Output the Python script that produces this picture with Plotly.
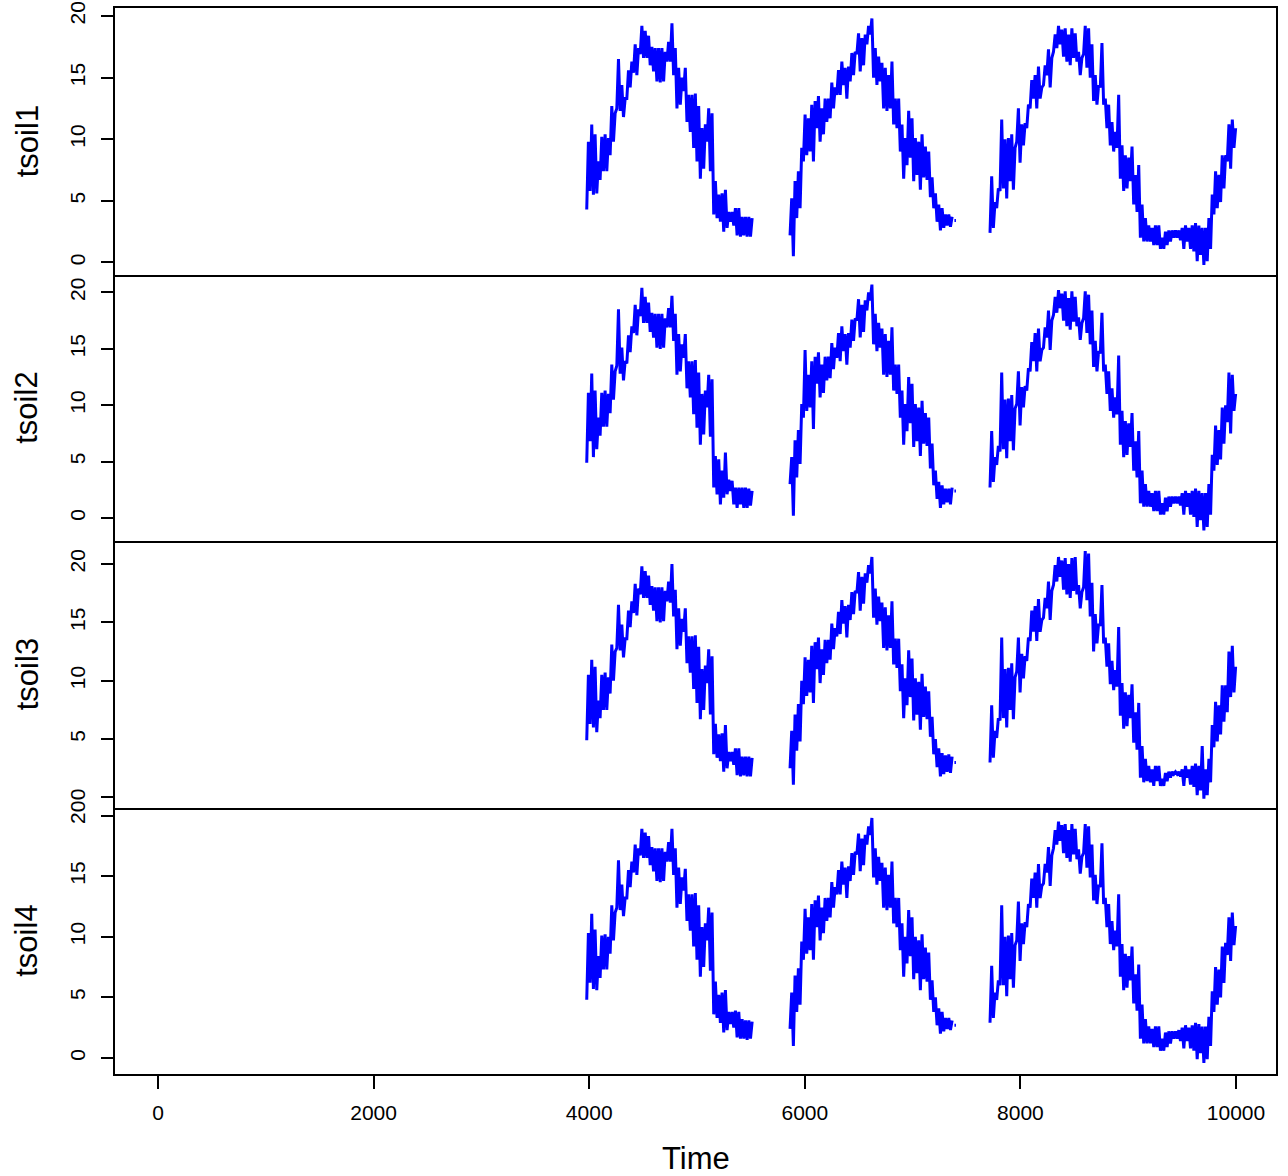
import numpy as np
import plotly.graph_objects as go
from plotly.subplots import make_subplots

# ---------------- data ----------------
SERIES = ["tsoil1", "tsoil2", "tsoil3", "tsoil4"]
SEG_START = [3977, 5863, 7718]     # first time index of each observed stretch
TIME_STEP = 31                     # spacing of the read-off samples
DOT_TIME = [7388, 7402]            # short isolated stretch after the 2nd block
X_TICKS = [0, 2000, 4000, 6000, 8000, 10000]
Y_TICKS = [0, 5, 10, 15, 20]

# lower / upper envelope of each stretch, per series
TSOIL1_SEG1_LO = [4.3, 5.8, 5.5, 5.6, 6.7, 7.4, 7.4, 8.7, 9.8, 12.5, 12.3, 11.8, 13.3, 14.2, 15.4, 15.2, 16.9, 16.6, 16.6, 16.0, 15.5, 14.7, 14.6, 14.7, 16.3, 16.3, 15.2, 12.5, 12.8, 13.9, 11.4, 10.6, 9.3, 8.2, 6.8, 7.6, 9.8, 7.4, 3.9, 3.6, 3.3, 2.5, 2.8, 3.3, 3.0, 2.2, 2.1, 2.2, 2.1, 2.1]
TSOIL1_SEG1_HI = [9.8, 11.2, 10.4, 8.2, 10.2, 10.4, 10.1, 12.7, 12.1, 16.5, 14.4, 13.3, 15.6, 16.3, 17.7, 17.4, 19.2, 18.8, 18.4, 17.5, 17.4, 17.4, 17.4, 17.1, 17.9, 19.4, 17.4, 15.8, 15.0, 15.8, 13.6, 13.6, 13.7, 12.7, 10.9, 11.2, 12.5, 12.1, 6.6, 5.5, 5.6, 5.9, 4.1, 4.1, 4.4, 4.4, 3.7, 3.7, 3.7, 3.6]
TSOIL1_SEG2_LO = [2.2, 0.5, 3.6, 4.4, 8.2, 8.7, 9.0, 8.2, 10.9, 9.8, 10.4, 11.4, 11.7, 12.5, 13.6, 13.6, 14.4, 13.3, 14.7, 15.2, 16.9, 15.5, 16.0, 17.7, 18.5, 15.0, 14.4, 14.7, 12.5, 12.3, 12.5, 11.2, 10.9, 9.0, 6.8, 7.9, 8.5, 6.6, 7.1, 5.9, 6.9, 6.7, 5.3, 4.4, 3.3, 2.6, 2.8, 3.0, 2.9]
TSOIL1_SEG2_HI = [5.2, 6.6, 7.4, 9.3, 12.0, 11.7, 12.8, 13.1, 13.5, 12.5, 13.3, 13.3, 14.6, 14.2, 15.6, 16.3, 15.8, 15.9, 17.0, 17.1, 18.6, 18.2, 18.5, 19.2, 19.8, 17.4, 16.7, 16.2, 15.8, 15.2, 16.3, 13.3, 13.3, 11.2, 10.1, 12.3, 11.7, 10.1, 9.8, 10.4, 9.4, 9.0, 6.9, 5.6, 4.7, 4.4, 3.9, 3.9, 3.7]
TSOIL1_SEG3_LO = [2.4, 2.8, 4.4, 5.8, 6.0, 5.2, 6.6, 5.9, 9.8, 8.1, 9.5, 10.9, 12.5, 13.3, 12.5, 13.3, 14.4, 15.2, 14.2, 17.1, 17.4, 17.7, 16.7, 16.3, 16.0, 16.6, 16.3, 15.2, 16.9, 15.8, 15.0, 13.1, 12.8, 14.2, 12.8, 10.9, 9.5, 9.0, 9.3, 6.8, 5.8, 6.0, 6.6, 4.7, 4.1, 2.0, 1.7, 1.7, 1.7, 1.4, 1.4, 1.1, 1.1, 1.4, 1.7, 2.0, 2.0, 1.8, 1.1, 1.7, 1.1, 0.9, 0.1, 0.6, -0.2, 0.1, 1.1, 3.9, 4.4, 4.9, 6.0, 8.2, 7.6, 9.3]
TSOIL1_SEG3_HI = [7.0, 4.9, 6.0, 11.6, 10.0, 10.1, 10.4, 9.3, 12.5, 11.2, 11.3, 12.8, 14.8, 15.2, 15.9, 14.2, 16.0, 17.3, 16.6, 18.5, 19.2, 18.9, 19.0, 18.5, 19.0, 18.6, 17.1, 16.6, 19.2, 19.0, 17.7, 15.2, 14.4, 17.8, 13.3, 12.8, 11.4, 10.6, 13.6, 9.5, 8.7, 8.5, 9.4, 7.1, 7.9, 4.7, 3.6, 3.0, 2.8, 3.0, 3.0, 2.0, 2.5, 2.6, 2.6, 2.6, 2.6, 2.8, 3.0, 2.8, 3.0, 3.2, 3.0, 2.8, 2.8, 3.6, 5.5, 7.4, 7.1, 8.7, 8.7, 11.2, 11.6, 10.9]
TSOIL1_DOT = 3.4

TSOIL2_SEG1_LO = [4.9, 6.8, 5.4, 6.1, 7.3, 8.1, 8.1, 9.3, 10.5, 13.5, 12.8, 12.2, 13.7, 14.7, 16.4, 16.2, 17.9, 17.3, 17.3, 16.5, 16.0, 15.1, 15.0, 15.1, 16.9, 16.9, 15.7, 12.7, 13.0, 14.2, 11.5, 10.7, 9.2, 8.0, 6.5, 7.4, 9.8, 7.2, 2.7, 2.1, 1.2, 1.8, 2.1, 2.4, 1.2, 0.9, 1.2, 0.9, 0.9, 1.1]
TSOIL2_SEG1_HI = [11.1, 12.8, 11.3, 8.9, 11.1, 11.3, 11.0, 13.6, 13.0, 18.5, 15.1, 13.9, 16.2, 17.0, 18.9, 18.5, 20.4, 19.6, 19.1, 18.2, 18.1, 18.1, 18.1, 17.7, 18.6, 19.7, 18.1, 16.3, 15.4, 16.3, 13.9, 13.9, 14.0, 12.9, 11.0, 11.3, 12.7, 12.3, 5.5, 5.2, 4.2, 5.8, 3.4, 3.3, 2.7, 2.7, 2.7, 2.7, 2.6, 2.4]
TSOIL2_SEG2_LO = [3.0, 0.2, 3.6, 4.8, 8.9, 9.5, 9.8, 7.9, 11.9, 10.7, 11.1, 12.2, 12.4, 13.2, 14.2, 13.9, 14.8, 13.6, 15.1, 15.7, 17.5, 16.0, 16.5, 18.4, 19.3, 15.4, 14.8, 15.1, 12.7, 12.5, 12.7, 11.3, 11.0, 8.9, 6.5, 7.7, 8.4, 6.3, 6.8, 5.5, 6.6, 6.4, 4.4, 2.9, 1.7, 0.9, 1.2, 1.4, 1.2]
TSOIL2_SEG2_HI = [5.4, 6.9, 7.8, 10.1, 14.9, 12.7, 13.9, 14.3, 14.7, 13.6, 14.3, 14.3, 15.5, 15.1, 16.4, 17.0, 16.3, 16.4, 17.6, 17.7, 19.4, 18.9, 19.3, 20.0, 20.7, 18.1, 17.3, 16.8, 16.3, 15.7, 16.9, 13.6, 13.6, 11.3, 10.1, 12.5, 11.9, 10.1, 9.8, 10.4, 9.3, 8.9, 6.6, 4.2, 3.2, 2.9, 2.6, 2.6, 2.7]
TSOIL2_SEG3_LO = [2.7, 3.2, 4.7, 5.9, 6.1, 5.3, 6.8, 6.0, 10.1, 8.2, 9.8, 11.3, 13.0, 13.9, 13.0, 13.9, 15.1, 16.0, 14.9, 18.0, 18.2, 18.6, 17.5, 17.0, 16.7, 17.4, 17.0, 15.8, 17.7, 16.4, 15.4, 13.4, 13.0, 14.6, 13.0, 11.0, 9.5, 8.9, 9.2, 6.5, 5.4, 5.6, 6.3, 4.2, 3.6, 1.3, 1.0, 1.0, 1.0, 0.6, 0.6, 0.3, 0.3, 0.6, 1.0, 1.3, 1.3, 1.1, 0.3, 1.0, 0.3, 0.1, -0.8, -0.2, -1.1, -0.8, 0.3, 4.2, 4.7, 5.2, 6.6, 8.5, 7.5, 9.5]
TSOIL2_SEG3_HI = [7.7, 5.4, 6.4, 12.9, 10.5, 10.6, 10.9, 9.7, 13.0, 11.6, 11.7, 13.3, 15.6, 16.4, 16.8, 14.9, 16.9, 18.4, 17.5, 19.6, 20.2, 19.9, 20.1, 19.5, 20.1, 19.6, 17.8, 17.3, 20.1, 19.8, 18.4, 15.7, 14.8, 18.2, 13.6, 13.0, 11.5, 10.7, 14.4, 9.5, 8.6, 8.4, 9.3, 6.8, 7.7, 4.2, 3.0, 2.4, 2.2, 2.4, 2.4, 1.3, 1.8, 1.9, 1.9, 1.9, 1.9, 2.2, 2.4, 2.2, 2.4, 2.6, 2.4, 2.2, 2.2, 3.0, 5.6, 8.2, 7.8, 9.8, 10.0, 12.9, 12.7, 11.0]
TSOIL2_DOT = 2.4

TSOIL3_SEG1_LO = [4.9, 6.3, 6.0, 5.6, 6.8, 7.5, 7.5, 8.9, 10.0, 12.8, 12.6, 12.0, 13.6, 14.6, 15.8, 15.6, 17.4, 17.1, 17.1, 16.5, 16.0, 15.1, 15.0, 15.1, 16.8, 16.7, 15.5, 12.7, 13.0, 14.2, 11.5, 10.7, 9.3, 8.1, 6.7, 7.5, 9.8, 7.1, 3.7, 3.4, 3.1, 2.2, 2.5, 3.1, 2.8, 1.9, 1.8, 1.9, 1.8, 1.8]
TSOIL3_SEG1_HI = [10.5, 11.8, 11.2, 8.3, 10.5, 10.7, 10.3, 13.1, 12.5, 16.5, 14.8, 13.6, 16.0, 16.8, 18.3, 17.9, 19.8, 19.4, 19.0, 18.1, 18.0, 18.0, 18.0, 17.7, 18.5, 20.0, 17.8, 16.2, 15.3, 16.2, 13.8, 13.8, 13.9, 12.9, 11.0, 11.3, 12.7, 12.1, 6.3, 5.4, 5.5, 6.2, 3.9, 3.9, 4.2, 4.2, 3.5, 3.5, 3.5, 3.4]
TSOIL3_SEG2_LO = [2.5, 1.1, 4.0, 4.8, 8.0, 8.7, 9.0, 8.1, 11.0, 9.8, 10.5, 11.5, 11.8, 12.7, 13.8, 14.0, 14.9, 13.7, 15.2, 15.7, 17.5, 16.0, 16.6, 18.4, 19.2, 15.4, 14.8, 15.1, 12.8, 12.6, 12.8, 11.4, 11.1, 9.1, 6.8, 7.9, 8.6, 6.6, 7.1, 5.8, 6.9, 6.7, 5.2, 3.7, 2.6, 1.8, 2.0, 2.2, 2.1]
TSOIL3_SEG2_HI = [5.7, 7.1, 8.0, 10.0, 12.0, 11.8, 13.0, 13.3, 13.7, 12.7, 13.5, 13.5, 14.9, 14.5, 15.9, 16.9, 16.4, 16.5, 17.6, 17.7, 19.3, 18.9, 19.2, 19.9, 20.6, 17.9, 17.2, 16.7, 16.3, 15.6, 16.8, 13.6, 13.6, 11.4, 10.2, 12.6, 11.9, 10.2, 9.9, 10.6, 9.5, 9.1, 6.9, 5.0, 4.2, 3.8, 3.6, 3.7, 3.5]
TSOIL3_SEG3_LO = [3.0, 3.4, 5.1, 6.6, 6.8, 6.0, 7.5, 6.7, 10.8, 9.0, 10.2, 11.7, 13.4, 14.2, 13.4, 14.2, 15.4, 16.2, 15.2, 18.2, 18.5, 18.9, 17.8, 17.4, 17.1, 17.7, 17.4, 16.2, 18.0, 16.9, 15.5, 12.5, 13.2, 14.7, 13.2, 11.2, 9.7, 9.2, 9.5, 7.0, 5.9, 6.1, 6.8, 4.7, 4.1, 1.7, 1.3, 1.4, 1.3, 1.0, 1.4, 1.0, 1.0, 1.4, 1.7, 2.0, 2.0, 1.8, 1.0, 1.7, 1.1, 0.9, 0.2, 0.6, -0.1, 0.2, 1.3, 4.3, 4.8, 5.4, 6.5, 7.3, 8.6, 9.0]
TSOIL3_SEG3_HI = [7.9, 5.7, 6.8, 13.7, 11.0, 11.1, 11.5, 10.3, 13.7, 12.3, 12.1, 13.7, 16.0, 16.4, 17.0, 15.2, 17.1, 18.5, 17.7, 19.9, 20.6, 20.3, 20.5, 20.0, 20.5, 20.6, 18.2, 17.6, 21.1, 20.9, 18.4, 15.7, 14.9, 18.2, 13.7, 13.2, 11.7, 10.9, 14.6, 9.8, 9.0, 8.8, 9.7, 7.3, 8.1, 4.4, 3.3, 2.7, 2.4, 2.7, 2.7, 1.6, 2.1, 2.2, 2.2, 2.2, 2.2, 2.4, 2.7, 2.4, 2.7, 2.9, 2.7, 4.4, 2.4, 3.3, 6.2, 8.2, 7.9, 9.6, 9.6, 12.5, 13.0, 11.2]
TSOIL3_DOT = 3.0

TSOIL4_SEG1_LO = [4.8, 6.2, 5.7, 5.6, 6.6, 7.3, 7.3, 8.6, 9.7, 12.4, 12.2, 11.7, 13.2, 14.1, 15.3, 15.1, 16.7, 16.5, 16.5, 15.9, 15.4, 14.6, 14.5, 14.6, 16.2, 16.2, 15.1, 12.4, 12.7, 13.8, 11.3, 10.5, 9.2, 8.1, 6.7, 7.5, 9.7, 7.2, 3.6, 3.3, 2.9, 2.1, 2.3, 2.8, 2.5, 1.7, 1.6, 1.6, 1.5, 1.6]
TSOIL4_SEG1_HI = [10.3, 11.9, 10.6, 8.4, 10.1, 10.2, 10.0, 12.6, 12.0, 16.3, 14.3, 13.2, 15.5, 16.2, 17.6, 17.3, 18.9, 18.6, 18.3, 17.4, 17.3, 17.3, 17.3, 17.0, 17.8, 18.9, 17.3, 15.7, 14.9, 15.6, 13.5, 13.5, 13.6, 12.6, 10.8, 11.1, 12.4, 12.0, 6.3, 5.2, 5.4, 5.6, 3.8, 3.8, 3.9, 3.8, 3.2, 3.1, 3.1, 3.0]
TSOIL4_SEG2_LO = [2.4, 1.0, 3.8, 4.4, 8.1, 8.6, 8.9, 8.1, 10.8, 9.7, 10.3, 11.3, 11.6, 12.4, 13.5, 13.5, 14.3, 13.2, 14.6, 15.1, 16.8, 15.4, 15.9, 17.6, 18.4, 14.9, 14.3, 14.6, 12.4, 12.2, 12.4, 11.1, 10.8, 8.9, 6.7, 7.8, 8.4, 6.5, 7.0, 5.6, 6.5, 6.3, 4.8, 3.8, 2.7, 2.0, 2.2, 2.4, 2.3]
TSOIL4_SEG2_HI = [5.4, 6.8, 7.4, 9.6, 12.3, 11.6, 12.7, 13.0, 13.4, 12.4, 13.2, 13.2, 14.5, 14.1, 15.5, 16.2, 15.7, 15.8, 16.9, 17.0, 18.5, 18.1, 18.4, 19.1, 19.8, 17.3, 16.6, 16.1, 15.7, 15.1, 16.2, 13.2, 13.2, 11.1, 10.0, 12.2, 11.6, 10.0, 9.7, 10.2, 9.1, 8.7, 6.4, 5.0, 4.1, 3.8, 3.3, 3.3, 3.1]
TSOIL4_SEG3_LO = [2.9, 3.3, 4.8, 6.0, 6.0, 5.1, 6.5, 5.8, 9.7, 8.0, 9.4, 10.8, 12.4, 13.2, 12.4, 13.2, 14.4, 15.3, 14.2, 17.3, 17.6, 17.9, 16.9, 16.5, 16.2, 16.8, 16.4, 15.2, 16.9, 15.7, 14.9, 13.0, 12.7, 14.1, 12.7, 10.8, 9.4, 8.9, 9.2, 6.7, 5.6, 5.8, 6.4, 4.5, 3.9, 1.6, 1.2, 1.2, 1.2, 0.9, 0.9, 0.6, 0.6, 0.9, 1.2, 1.6, 1.6, 1.4, 0.8, 1.4, 0.8, 0.6, -0.1, 0.4, -0.4, -0.1, 1.0, 3.8, 4.4, 5.0, 6.2, 8.5, 8.0, 9.3]
TSOIL4_SEG3_HI = [7.6, 5.4, 6.4, 12.6, 10.0, 10.1, 10.3, 9.3, 12.9, 11.1, 11.2, 12.7, 14.8, 15.3, 16.0, 14.2, 16.0, 17.4, 16.7, 18.8, 19.5, 19.2, 19.3, 18.8, 19.3, 18.9, 17.2, 16.6, 19.3, 19.1, 17.6, 15.1, 14.3, 17.7, 13.2, 12.7, 11.3, 10.5, 13.5, 9.4, 8.6, 8.4, 9.2, 6.9, 7.7, 4.4, 3.2, 2.6, 2.4, 2.6, 2.6, 1.6, 2.1, 2.2, 2.2, 2.2, 2.3, 2.5, 2.7, 2.5, 2.7, 2.9, 2.8, 2.6, 2.6, 3.4, 5.5, 7.5, 7.3, 9.2, 9.5, 11.6, 12.0, 10.9]
TSOIL4_DOT = 2.7

DATA = {
    "tsoil1": ([TSOIL1_SEG1_LO, TSOIL1_SEG2_LO, TSOIL1_SEG3_LO],
               [TSOIL1_SEG1_HI, TSOIL1_SEG2_HI, TSOIL1_SEG3_HI], TSOIL1_DOT),
    "tsoil2": ([TSOIL2_SEG1_LO, TSOIL2_SEG2_LO, TSOIL2_SEG3_LO],
               [TSOIL2_SEG1_HI, TSOIL2_SEG2_HI, TSOIL2_SEG3_HI], TSOIL2_DOT),
    "tsoil3": ([TSOIL3_SEG1_LO, TSOIL3_SEG2_LO, TSOIL3_SEG3_LO],
               [TSOIL3_SEG1_HI, TSOIL3_SEG2_HI, TSOIL3_SEG3_HI], TSOIL3_DOT),
    "tsoil4": ([TSOIL4_SEG1_LO, TSOIL4_SEG2_LO, TSOIL4_SEG3_LO],
               [TSOIL4_SEG1_HI, TSOIL4_SEG2_HI, TSOIL4_SEG3_HI], TSOIL4_DOT),
}

# axis ranges as drawn in the reference
X_RANGE = [-399, 10371]
Y_RANGES = [[-0.98, 20.65], [-2.04, 21.59], [-0.86, 21.97], [-1.32, 20.66]]

FONT = "Liberation Sans, Arial, Helvetica, sans-serif"
BLUE = "#0000FF"


def build_series(los, his, dot):
    xs, ys = [], []
    for start, lo, hi in zip(SEG_START, los, his):
        n = min(len(lo), len(hi))
        t = start + TIME_STEP * np.arange(n)
        x = np.empty(2 * n)
        y = np.empty(2 * n)
        x[0::2] = t
        x[1::2] = t + TIME_STEP / 2.0
        y[0::2] = lo[:n]
        y[1::2] = hi[:n]
        xs += list(x) + [None]
        ys += list(y) + [None]
    xs += DOT_TIME
    ys += [dot] * len(DOT_TIME)
    return xs, ys


fig = make_subplots(rows=4, cols=1, shared_xaxes=True, vertical_spacing=0)

for i, name in enumerate(SERIES):
    los, his, dot = DATA[name]
    xs, ys = build_series(los, his, dot)
    fig.add_trace(
        go.Scatter(x=xs, y=ys, mode="lines", connectgaps=False,
                   line=dict(color=BLUE, width=3), showlegend=False,
                   hoverinfo="skip"),
        row=i + 1, col=1)

LINE_W = 2

for i in range(4):
    r = i + 1
    fig.update_yaxes(range=Y_RANGES[i], tickvals=Y_TICKS,
                     ticktext=[str(v) for v in Y_TICKS], automargin=False,
                     showline=True, linecolor="black", linewidth=LINE_W,
                     mirror=True, showgrid=False, zeroline=False,
                     ticks="outside", ticklen=12, tickwidth=2,
                     tickcolor="black", tickangle=-90, ticklabelstandoff=8,
                     ticklabeloverflow="allow",
                     tickfont=dict(family=FONT, size=21, color="black"),
                     row=r, col=1)
    fig.update_xaxes(range=X_RANGE, showline=True, linecolor="black",
                     linewidth=LINE_W, mirror=(r == 1), showgrid=False,
                     zeroline=False, automargin=False, row=r, col=1)
    if r < 4:
        fig.update_xaxes(showticklabels=False, ticks="", row=r, col=1)
    else:
        fig.update_xaxes(tickvals=X_TICKS, ticktext=[str(v) for v in X_TICKS],
                         ticks="outside", ticklen=13, tickwidth=2,
                         tickcolor="black", ticklabelstandoff=6,
                         ticklabeloverflow="allow",
                         tickfont=dict(family=FONT, size=21, color="black"),
                         row=r, col=1)

annotations = []
for i, name in enumerate(SERIES):
    yref = "y domain" if i == 0 else f"y{i + 1} domain"
    annotations.append(dict(text=name, xref="paper", yref=yref, x=0, y=0.5,
                            xanchor="center", yanchor="middle", xshift=-88,
                            textangle=-90, showarrow=False,
                            font=dict(family=FONT, size=31, color="black")))
annotations.append(dict(text="Time", xref="paper", yref="paper", x=0.5, y=0,
                        xanchor="center", yanchor="middle", yshift=-84,
                        showarrow=False,
                        font=dict(family=FONT, size=31, color="black")))

fig.update_layout(width=1288, height=1176,
                  margin=dict(l=115, r=12, t=8, b=102, pad=0),
                  paper_bgcolor="white", plot_bgcolor="white",
                  annotations=annotations, hovermode=False,
                  font=dict(family=FONT, color="black"))

# drop the browser's default 8px page margin so the figure fills the window
fig.write_html("out.html",
               config={"displayModeBar": False, "staticPlot": True},
               post_script="document.body.style.margin='0';"
                           "document.body.style.overflow='hidden';")
